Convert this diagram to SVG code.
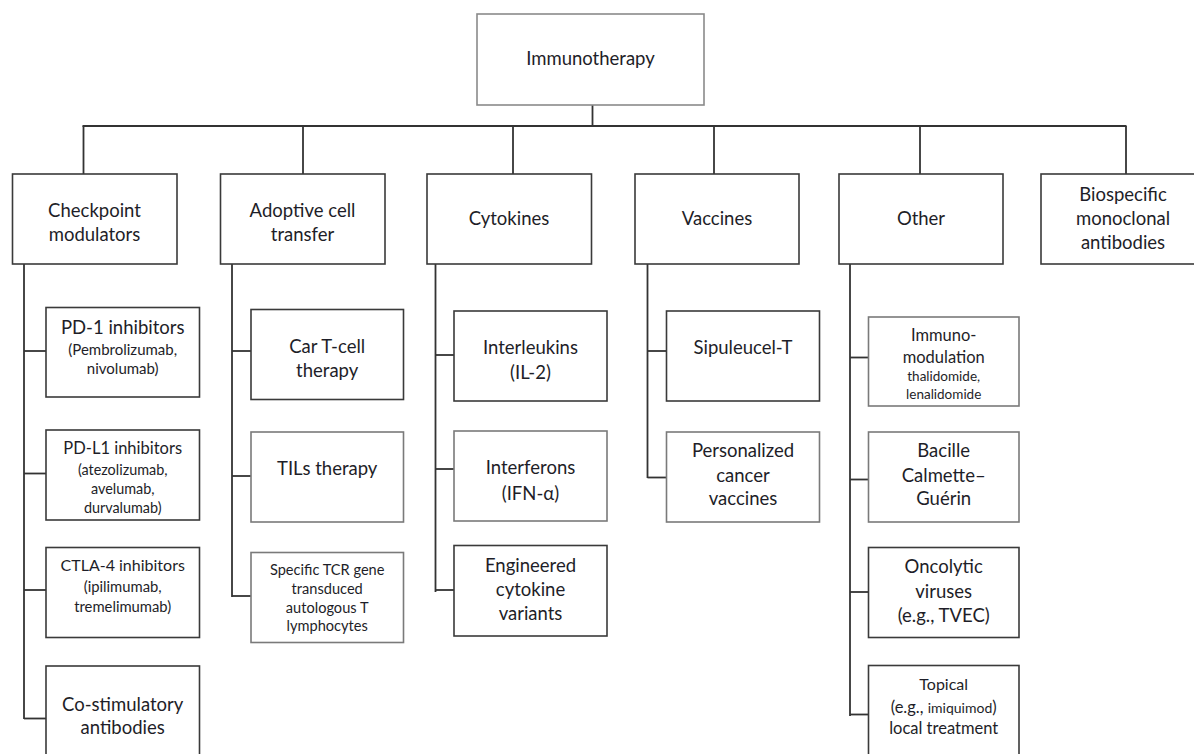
<svg xmlns="http://www.w3.org/2000/svg" width="1194" height="754" viewBox="0 0 1194 754">
<style>
.box{fill:#fff;stroke:#3a3a3a;stroke-width:1.6}
.top{fill:#fff;stroke:#8a8a8a;stroke-width:1.6}
.lt{fill:#fff;stroke:#7a7a7a;stroke-width:1.6}
text{font-family:Lato,"Liberation Sans",sans-serif;fill:#1e1e28;text-anchor:middle}
.l{font-size:18.5px}
.m{font-size:16.5px}
.s{font-size:15px}
.xs{font-size:13.5px}
.c line{stroke:#333;stroke-width:1.8}
</style>
<rect width="1194" height="754" fill="#fff"/>
<g class="c" id="connectors">
<line x1="592.5" y1="105" x2="592.5" y2="126"/>
<line x1="82.5" y1="126" x2="1126.5" y2="126"/>
<line x1="83.5" y1="126" x2="83.5" y2="174"/>
<line x1="303" y1="126" x2="303" y2="174"/>
<line x1="513" y1="126" x2="513" y2="174"/>
<line x1="714" y1="126" x2="714" y2="174"/>
<line x1="920" y1="126" x2="920" y2="174"/>
<line x1="1126" y1="126" x2="1126" y2="174"/>
<line x1="24" y1="264" x2="24" y2="719"/>
<line x1="24" y1="351" x2="46" y2="351"/>
<line x1="24" y1="473.5" x2="46" y2="473.5"/>
<line x1="24" y1="590" x2="46" y2="590"/>
<line x1="24" y1="718.5" x2="46" y2="718.5"/>
<line x1="232" y1="264" x2="232" y2="597"/>
<line x1="232" y1="351" x2="251" y2="351"/>
<line x1="232" y1="476" x2="251" y2="476"/>
<line x1="232" y1="596" x2="251" y2="596"/>
<line x1="435.5" y1="264" x2="435.5" y2="592"/>
<line x1="435.5" y1="355" x2="454" y2="355"/>
<line x1="435.5" y1="469" x2="454" y2="469"/>
<line x1="435.5" y1="590" x2="454" y2="590"/>
<line x1="647.5" y1="264" x2="647.5" y2="478"/>
<line x1="647.5" y1="351" x2="666.5" y2="351"/>
<line x1="647.5" y1="477.5" x2="666.5" y2="477.5"/>
<line x1="850" y1="264" x2="850" y2="716"/>
<line x1="850" y1="357.5" x2="868.5" y2="357.5"/>
<line x1="850" y1="479.5" x2="868.5" y2="479.5"/>
<line x1="850" y1="592" x2="868.5" y2="592"/>
<line x1="850" y1="714.5" x2="868.5" y2="714.5"/>
</g>
<g id="immunotherapy"><rect class="top" x="477" y="14" width="227" height="91"/><text class="l" x="590.5" y="65">Immunotherapy</text></g>
<g id="checkpoint"><rect class="box" x="12.5" y="174" width="164.5" height="90"/><text class="l" x="94.5" y="217">Checkpoint</text><text class="l" x="94.5" y="241">modulators</text></g>
<g id="adoptive"><rect class="box" x="220.5" y="174" width="164.5" height="90"/><text class="l" x="302.5" y="217">Adoptive cell</text><text class="l" x="302.5" y="241">transfer</text></g>
<g id="cytokines"><rect class="box" x="427" y="174" width="164.5" height="90"/><text class="l" x="509" y="225">Cytokines</text></g>
<g id="vaccines"><rect class="box" x="635" y="174" width="164" height="90"/><text class="l" x="717" y="225">Vaccines</text></g>
<g id="other"><rect class="box" x="839" y="174" width="164" height="90"/><text class="l" x="921" y="225">Other</text></g>
<g id="biospecific"><rect class="box" x="1041" y="174" width="164" height="90"/><text class="l" x="1123" y="201">Biospecific</text><text class="l" x="1123" y="225">monoclonal</text><text class="l" x="1123" y="249">antibodies</text></g>
<g id="pd1"><rect class="box" x="46" y="307.5" width="153.5" height="89.5"/><text class="l" x="122.7" y="333.5">PD-1 inhibitors</text><text class="s" x="122.7" y="355">(Pembrolizumab,</text><text class="s" x="122.7" y="374">nivolumab)</text></g>
<g id="pdl1"><rect class="box" x="46" y="430" width="153.5" height="90"/><text class="m" x="122.7" y="454">PD-L1 inhibitors</text><text class="xs" x="122.7" y="475" style="font-size:14.4px">(atezolizumab,</text><text class="xs" x="122.7" y="493.5" style="font-size:14.4px">avelumab,</text><text class="xs" x="122.7" y="512.5" style="font-size:14.4px">durvalumab)</text></g>
<g id="ctla4"><rect class="box" x="46" y="547.5" width="153.5" height="90"/><text class="m" x="122.7" y="571" style="font-size:16px">CTLA-4 inhibitors</text><text class="s" x="122.7" y="591.5" style="font-size:14.8px">(ipilimumab,</text><text class="s" x="122.7" y="611.5" style="font-size:14.8px">tremelimumab)</text></g>
<g id="costim"><rect class="box" x="46" y="666" width="153.5" height="96"/><text class="l" x="122.7" y="711">Co-stimulatory</text><text class="l" x="122.7" y="734">antibodies</text></g>
<g id="cart"><rect class="box" x="251" y="309.5" width="152.5" height="90"/><text class="l" x="327.2" y="353">Car T-cell</text><text class="l" x="327.2" y="377">therapy</text></g>
<g id="tils"><rect class="lt" x="251" y="432" width="152.5" height="90"/><text class="l" x="327.2" y="475">TILs therapy</text></g>
<g id="tcr"><rect class="lt" x="251" y="552.5" width="152.5" height="90"/><text class="xs" x="327.2" y="575" style="font-size:14.6px">Specific TCR gene</text><text class="xs" x="327.2" y="593.5" style="font-size:14.6px">transduced</text><text class="xs" x="327.2" y="612.5" style="font-size:14.6px">autologous T</text><text class="xs" x="327.2" y="630.5" style="font-size:14.6px">lymphocytes</text></g>
<g id="interleukins"><rect class="box" x="454" y="311" width="153" height="90"/><text class="l" x="530.5" y="354">Interleukins</text><text class="l" x="530.5" y="379">(IL-2)</text></g>
<g id="interferons"><rect class="lt" x="454" y="431" width="153" height="90"/><text class="l" x="530.5" y="474">Interferons</text><text class="l" x="530.5" y="500">(IFN-α)</text></g>
<g id="engineered"><rect class="box" x="454" y="545.5" width="153" height="90.5"/><text class="l" x="530.5" y="572">Engineered</text><text class="l" x="530.5" y="596">cytokine</text><text class="l" x="530.5" y="620">variants</text></g>
<g id="sipuleucel"><rect class="box" x="666.5" y="311" width="153" height="90"/><text class="l" x="743" y="354">Sipuleucel-T</text></g>
<g id="personalized"><rect class="lt" x="666.5" y="432" width="153" height="90"/><text class="l" x="743" y="456.5">Personalized</text><text class="l" x="743" y="482">cancer</text><text class="l" x="743" y="505">vaccines</text></g>
<g id="immunomodulation"><rect class="lt" x="868.5" y="317" width="150.5" height="89"/><text class="m" x="943.7" y="341">Immuno-</text><text class="m" x="943.7" y="362.5">modulation</text><text class="xs" x="943.7" y="381">thalidomide,</text><text class="xs" x="943.7" y="399">lenalidomide</text></g>
<g id="bcg"><rect class="lt" x="868.5" y="432" width="150.5" height="90"/><text class="l" x="943.7" y="457">Bacille</text><text class="l" x="943.7" y="481.5">Calmette–</text><text class="l" x="943.7" y="505">Guérin</text></g>
<g id="oncolytic"><rect class="box" x="868.5" y="547.5" width="150.5" height="90"/><text class="l" x="943.7" y="573">Oncolytic</text><text class="l" x="943.7" y="597.5">viruses</text><text class="l" x="943.7" y="622">(e.g., TVEC)</text></g>
<g id="topical"><rect class="box" x="868.5" y="665.5" width="150.5" height="96"/><text class="m" x="943.7" y="690" style="font-size:16px">Topical</text><text class="m" x="943.7" y="712.5">(e.g., <tspan style="font-size:14px">imiquimod</tspan>)</text><text class="m" x="943.7" y="733.5">local treatment</text></g>
</svg>
